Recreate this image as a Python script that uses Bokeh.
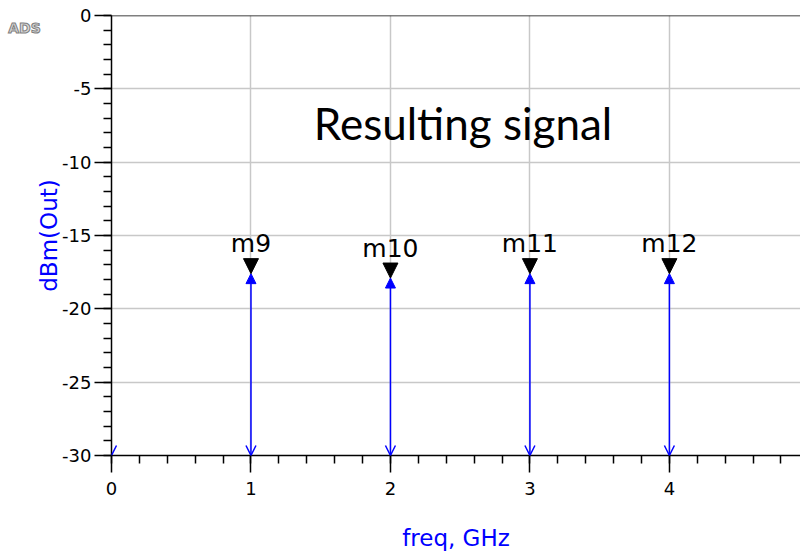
from bokeh.plotting import figure
from bokeh.models import (ColumnDataSource, FixedTicker, Arrow, NormalHead, OpenHead,
                          Label, Span, Range1d)
from bokeh.core.properties import value
from bokeh.embed import file_html
from bokeh.resources import INLINE

# ---- data ----
freq_ghz = [0, 1, 2, 3, 4]
dbm_out = [-60.0, -17.6, -17.9, -17.6, -17.6]   # DC component lies below the -30 dBm floor
marker_freq = [1, 2, 3, 4]
marker_dbm = [-17.6, -17.9, -17.6, -17.6]
marker_names = ["m9", "m10", "m11", "m12"]
x_ticks = [0, 1, 2, 3, 4]
y_ticks = [0, -5, -10, -15, -20, -25, -30]
y_tick_labels = ["0", "-5", "-10", "-15", "-20", "-25", "-30"]
x_minor = [round(i * 0.2, 1) for i in range(25)]
y_minor = list(range(0, -31, -1))
baseline = -30
title_text = "Resulting signal"

BLUE = "#0000ff"
FONT = "DejaVu Sans"

p = figure(width=800, height=555, output_backend="svg", toolbar_location=None,
           x_range=Range1d(0, 4.94), y_range=Range1d(-30, 0),
           min_border_left=111, min_border_right=0, min_border_top=15,
           min_border_bottom=100)
p.outline_line_color = None
p.background_fill_color = "white"
p.border_fill_color = "white"

# grid
p.xgrid.ticker = FixedTicker(ticks=x_ticks)
p.ygrid.ticker = FixedTicker(ticks=y_ticks)
for g in (p.xgrid, p.ygrid):
    g.grid_line_color = "#c8c8c8"
    g.grid_line_width = 1.5

# axes
p.xaxis.ticker = FixedTicker(ticks=x_ticks, minor_ticks=x_minor)
p.yaxis.ticker = FixedTicker(ticks=y_ticks, minor_ticks=y_minor)
p.yaxis.major_label_overrides = {t: s for t, s in zip(y_ticks, y_tick_labels)}
for ax in (p.xaxis, p.yaxis):
    ax.axis_line_color = "black"
    ax.axis_line_width = 1.5
    ax.major_tick_line_color = "black"
    ax.major_tick_line_width = 1.5
    ax.minor_tick_line_color = "black"
    ax.minor_tick_line_width = 1.5
    ax.major_tick_in = 0
    ax.major_tick_out = 17
    ax.minor_tick_in = 0
    ax.minor_tick_out = 8
    ax.major_label_text_font = FONT
    ax.major_label_text_font_size = "18px"
    ax.major_label_text_color = "black"
    ax.axis_label_text_font = FONT
    ax.axis_label_text_font_size = "23px"
    ax.axis_label_text_font_style = "normal"
    ax.axis_label_text_color = BLUE
p.xaxis.axis_label = "freq, GHz"
p.yaxis.axis_label = "dBm(Out)"
p.xaxis.major_label_standoff = 9
p.yaxis.major_label_standoff = 3
p.xaxis.axis_label_standoff = 27
p.yaxis.axis_label_standoff = -3

# top border
p.add_layout(Span(location=0, dimension="width", line_color="black", line_width=1.5))

# spectral stems (only those above the floor)
stem_x = [f for f, v in zip(freq_ghz, dbm_out) if v > baseline]
stem_y = [v for v in dbm_out if v > baseline]
stem_src = ColumnDataSource(dict(x0=stem_x, y0=[baseline] * len(stem_x),
                                 x1=stem_x, y1=stem_y))
p.add_layout(Arrow(source=stem_src, x_start="x0", y_start="y0", x_end="x1", y_end="y1",
                   line_color=BLUE, line_width=1.5,
                   end=NormalHead(size=10, fill_color=BLUE, line_color=BLUE, line_width=1)))

# floor arrows for every tone
base_src = ColumnDataSource(dict(x0=freq_ghz, y0=[baseline + 0.6] * len(freq_ghz),
                                 x1=freq_ghz, y1=[baseline] * len(freq_ghz)))
p.add_layout(Arrow(source=base_src, x_start="x0", y_start="y0", x_end="x1", y_end="y1",
                   line_alpha=0,
                   end=OpenHead(size=10, line_color=BLUE, line_width=1.5)))

# markers
mk_src = ColumnDataSource(dict(x=marker_freq, y=marker_dbm, name=marker_names,
                               ytop=[v + 1 for v in marker_dbm]))
p.add_layout(Arrow(source=mk_src, x_start="x", y_start="ytop", x_end="x", y_end="y",
                   line_alpha=0,
                   end=NormalHead(size=15, fill_color="black", line_color="black", line_width=1)))
p.text(x="x", y="y", text="name", source=mk_src, y_offset=-30,
       text_align="center", text_baseline="alphabetic",
       text_font=value(FONT), text_font_size="25px", text_color="black")

# title text
p.add_layout(Label(x=2.52, y=-7.35, text=title_text, text_align="center",
                   text_baseline="middle", text_font="Lato",
                   text_font_size="44px", text_color="black"))

# ADS logo (top-left corner, in the left side panel so that it is not clipped)
p.add_layout(Label(x=-0.74, y=-0.82, text="ADS",
                   text_align="left", text_baseline="middle", text_font=FONT,
                   text_font_size="14px", text_font_style="bold",
                   text_color="#d8d8d8", text_outline_color="#808080"), "left")

open("out.html", "w").write(file_html(p, INLINE))
